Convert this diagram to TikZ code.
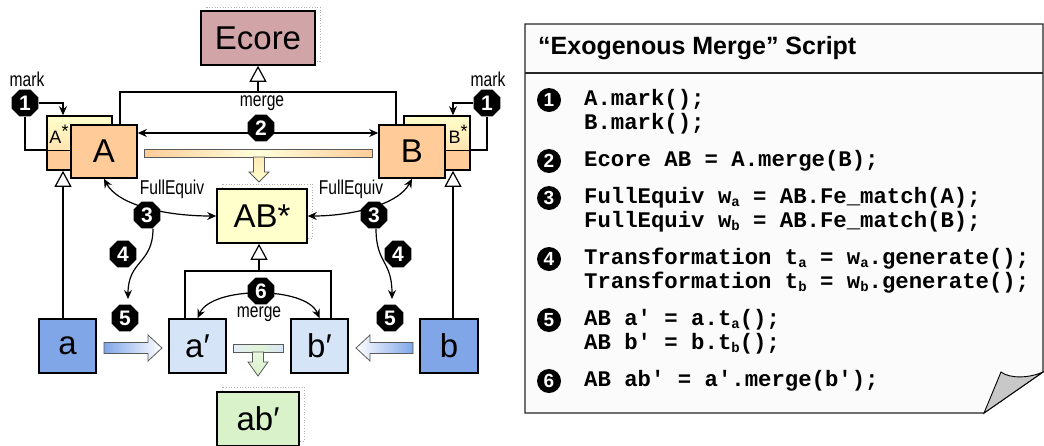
\documentclass[tikz,border=0pt]{standalone}
\usepackage{fontspec}
\setmainfont{Liberation Sans}
\newfontfamily\narrowfont{Liberation Sans}[FakeStretch=0.78]
\newfontfamily\codefont{Liberation Mono}
\usetikzlibrary{arrows.meta,shapes.geometric,calc}
\definecolor{ecorec}{RGB}{209,164,168}
\definecolor{orangec}{RGB}{255,204,153}
\definecolor{paleyel}{RGB}{255,255,204}
\definecolor{bluec}{RGB}{128,166,232}
\definecolor{lblue}{RGB}{214,228,247}
\definecolor{lgreen}{RGB}{217,242,201}
\definecolor{panelc}{RGB}{251,251,251}
\definecolor{curlc}{RGB}{200,200,200}
\definecolor{edgec}{RGB}{90,90,90}
\newcommand\mysub[1]{\raisebox{-3pt}{\fontsize{14}{14}\selectfont #1}}
\begin{document}
\begin{tikzpicture}[x=1pt,y=-1pt,
  box/.style={draw=black, line width=1.6pt, inner sep=0pt, font=\fontsize{33}{33}\selectfont},
  shadowbox/.style={draw=gray!60, dotted, line width=0.7pt},
  conn/.style={line width=1.2pt},
  arr/.style={line width=1.2pt, -{Stealth[length=9pt,width=8pt]}},
  arr2/.style={line width=1.2pt, {Stealth[length=9pt,width=8pt]}-{Stealth[length=9pt,width=8pt]}},
  inh/.style={line width=1.2pt, -{Triangle[open,length=16pt,width=17pt,fill=white]}},
  mk/.style={regular polygon, regular polygon sides=8, fill=black, text=white, inner sep=0pt,
             minimum size=29pt, font=\bfseries\fontsize{21}{21}\selectfont},
  cmk/.style={circle, fill=black, text=white, inner sep=0pt, minimum size=24pt,
             font=\bfseries\fontsize{19}{19}\selectfont},
  lbl/.style={inner sep=0pt, font=\narrowfont\fontsize{20}{20}\selectfont},
  code/.style={anchor=west, inner sep=0pt, font=\codefont\bfseries\fontsize{22.3}{22.3}\selectfont},
  fat/.style={draw=edgec, line width=0.8pt}
]
\useasboundingbox (0,0) rectangle (1044,445);

% ---------- script panel ----------
\draw[fill=panelc, draw=black!85, line width=1.2pt]
  (525,24) -- (1043,24) -- (1043,372) -- (984,413) -- (525,413) -- cycle;
\draw[draw=black!85, line width=1.2pt] (525,73) -- (1043,73);
\draw[fill=curlc, draw=black, line width=0.9pt]
  (984,413) -- (1001,372) .. controls (1010,379) and (1030,378) .. (1043,372) -- cycle;
\node[anchor=west, inner sep=0pt, font=\bfseries\fontsize{25}{25}\selectfont] (title) at (538,48)
  {“Exogenous Merge” Script};

\node[cmk] (k1) at (549,100) {1};
\node[code] (c1a) at (584,100) {A.mark();};
\node[code] (c1b) at (584,124) {B.mark();};
\node[cmk] (k2) at (549,161) {2};
\node[code] (c2) at (584,161) {Ecore AB = A.merge(B);};
\node[cmk] (k3) at (549,198) {3};
\node[code] (c3a) at (584,198) {FullEquiv w\mysub{a} = AB.Fe\_match(A);};
\node[code] (c3b) at (584,222) {FullEquiv w\mysub{b} = AB.Fe\_match(B);};
\node[cmk] (k4) at (549,259) {4};
\node[code] (c4a) at (584,259) {Transformation t\mysub{a} = w\mysub{a}.generate();};
\node[code] (c4b) at (584,283) {Transformation t\mysub{b} = w\mysub{b}.generate();};
\node[cmk] (k5) at (549,320) {5};
\node[code] (c5a) at (584,320) {AB a′ = a.t\mysub{a}();};
\node[code] (c5b) at (584,344) {AB b′ = b.t\mysub{b}();};
\node[cmk] (k6) at (549,381) {6};
\node[code] (c6) at (584,381) {AB ab′ = a′.merge(b′);};

% ---------- dotted shadows ----------
\draw[shadowbox] (206,7) rectangle (320,61);
\draw[shadowbox] (222,184) rectangle (312,238);
\draw[shadowbox] (222,387) rectangle (304,441);

% ---------- boxes ----------
\node[box, fill=ecorec, minimum width=114pt, minimum height=54pt] (Ecore) at (258,38) {Ecore};

\node[box, fill=orangec, minimum width=65pt, minimum height=54pt,
  path picture={
    \shade[top color=paleyel, bottom color=orangec!85!paleyel]
      (path picture bounding box.north west) rectangle ([yshift=20pt]path picture bounding box.south east);
    \draw[line width=1pt] ([yshift=20pt]path picture bounding box.south west) -- ([yshift=20pt]path picture bounding box.south east);
  }] (Astar) at (79.5,143) {};
\node[inner sep=0pt, font=\fontsize{18}{18}\selectfont] (Astarlbl) at (59,134) {A\raisebox{6pt}{*}};
\node[box, fill=orangec, minimum width=66pt, minimum height=53pt] (A) at (104,151.5) {A};

\node[box, fill=orangec, minimum width=66pt, minimum height=54pt,
  path picture={
    \shade[top color=paleyel, bottom color=orangec!85!paleyel]
      (path picture bounding box.north west) rectangle ([yshift=20pt]path picture bounding box.south east);
    \draw[line width=1pt] ([yshift=20pt]path picture bounding box.south west) -- ([yshift=20pt]path picture bounding box.south east);
  }] (Bstar) at (437,143) {};
\node[inner sep=0pt, font=\fontsize{18}{18}\selectfont] (Bstarlbl) at (458,134) {B\raisebox{6pt}{*}};
\node[box, fill=orangec, minimum width=66pt, minimum height=53pt] (B) at (412,151.5) {B};

\node[box, fill=paleyel, minimum width=90pt, minimum height=54pt] (ABs) at (262,216) {AB*};

\node[box, fill=bluec, minimum width=57pt, minimum height=54pt] (a) at (67.5,346) {a};
\node[box, fill=bluec, minimum width=58pt, minimum height=54pt] (b) at (449,346) {b};
\node[box, fill=lblue, minimum width=57pt, minimum height=54pt] (ap) at (197.5,346) {a′};
\node[box, fill=lblue, minimum width=57pt, minimum height=54pt] (bp) at (319.5,346) {b′};
\node[box, fill=lgreen, minimum width=82pt, minimum height=54pt] (abp) at (258,419) {ab′};

% ---------- merge bars and fat arrows ----------
\shade[fat, left color=orangec, right color=orangec, middle color=paleyel!70!white]
  (144,149) rectangle (372,157);
\shade[fat, top color=paleyel!60!orangec, bottom color=paleyel]
  (253.5,157) -- (264.5,157) -- (264.5,172) -- (269,172) -- (259,182) -- (249,172) -- (253.5,172) -- cycle;

\shade[fat, left color=lblue!70!white, right color=lblue, middle color=lgreen!80!white]
  (233,344) rectangle (283,352);
\shade[fat, top color=lgreen!60!white, bottom color=lgreen]
  (252.5,352) -- (263.5,352) -- (263.5,362) -- (268,362) -- (258,376) -- (248,362) -- (252.5,362) -- cycle;

\shade[fat, left color=bluec, right color=white]
  (104,342.5) -- (148,342.5) -- (148,335) -- (162,348) -- (148,361) -- (148,353.5) -- (104,353.5) -- cycle;
\shade[fat, right color=bluec, left color=white]
  (413,342.5) -- (370,342.5) -- (370,335) -- (356,348) -- (370,361) -- (370,353.5) -- (413,353.5) -- cycle;

% ---------- connectors ----------
\coordinate (mj) at (258,92);
\draw[conn] ([xshift=16pt]A.north) |- (mj) -| ([xshift=-16pt]B.north);
\draw[inh] (mj) -- (Ecore.south);
\draw[arr2] ([yshift=18.5pt]A.east) -- ([yshift=18.5pt]B.west);

\node[lbl] (markL) at (27,79) {mark};
\node[lbl] (markR) at (488,79) {mark};
\node[mk] (m1L) at (25,103) {1};
\node[mk] (m1R) at (487,103) {1};
\draw[arr] (m1L.east) -| ([xshift=-16.5pt]Astar.north);
\draw[conn] (m1L.south) |- ([yshift=-7pt]Astar.west);
\draw[arr] (m1R.west) -| ([xshift=16pt]Bstar.north);
\draw[conn] (m1R.south) |- ([yshift=-7pt]Bstar.east);

\node[lbl] (merge1) at (262,103) {merge};
\node[mk] (m2) at (261,128) {2};

\node[lbl] (feL) at (172,189) {FullEquiv};
\node[lbl] (feR) at (351,189) {FullEquiv};
\draw[arr2] (A.south) .. controls (118,205) and (165,216) .. (ABs.west);
\draw[arr2] (B.south) .. controls (398,205) and (351,216) .. (ABs.east);
\node[mk] (m3L) at (147,215) {3};
\node[mk] (m3R) at (374,215) {3};

\coordinate (e4L) at (128,299);
\coordinate (e4R) at (392,299);
\draw[arr] ([xshift=6pt]m3L.south) .. controls (153,264) and (128,260) .. (e4L);
\draw[arr] ([xshift=2pt]m3R.south) .. controls (376,264) and (392,260) .. (e4R);
\node[mk] (m4L) at (123,254) {4};
\node[mk] (m4R) at (398,254) {4};
\node[mk] (m5L) at (125,318) {5};
\node[mk] (m5R) at (390,318) {5};

\draw[inh] ([xshift=-4.5pt]a.north) -- ([xshift=-4.5pt]a.north |- Astar.south);
\draw[inh] ([xshift=4pt]b.north) -- ([xshift=4pt]b.north |- Bstar.south);

\coordinate (mj2) at (259,271);
\draw[conn] ([xshift=-12.5pt]ap.north) |- (mj2) -| ([xshift=11.5pt]bp.north);
\draw[inh] (mj2) -- (mj2 |- ABs.south);
\draw[arr2] (ap.north) .. controls (212,286) and (306,286) .. (bp.north);
\node[mk] (m6) at (261,291) {6};
\node[lbl] (merge2) at (259,314) {merge};
\end{tikzpicture}
\end{document}
